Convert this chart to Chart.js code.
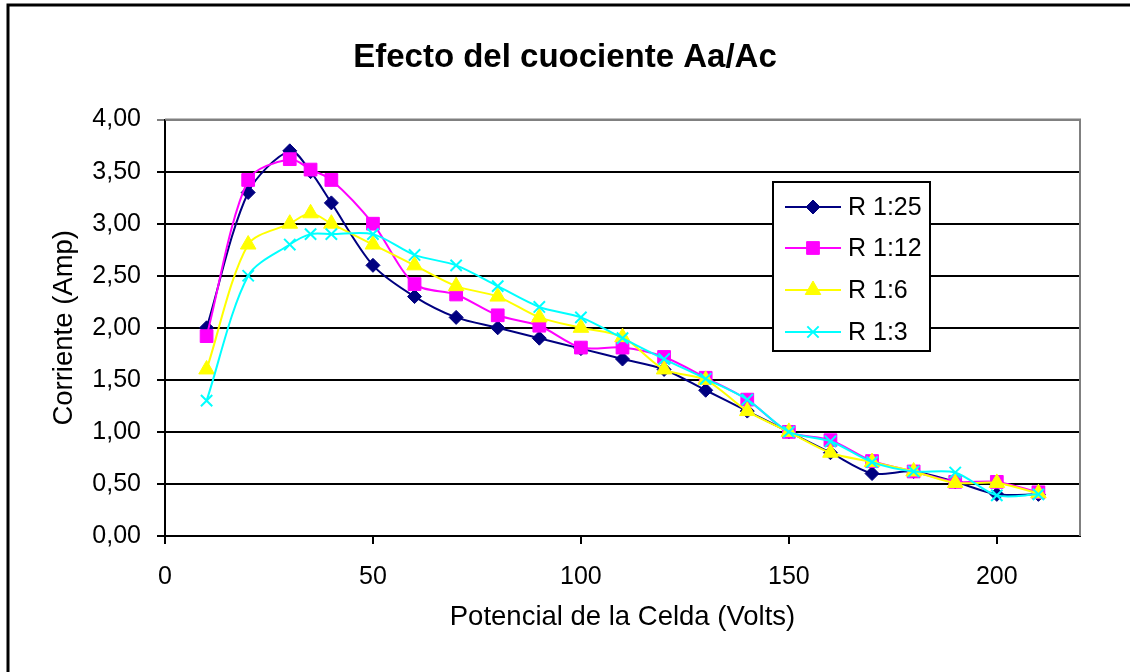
<!DOCTYPE html>
<html>
<head>
<meta charset="utf-8">
<title>Efecto del cuociente Aa/Ac</title>
<script src="https://cdn.jsdelivr.net/npm/chart.js@4.4.0/dist/chart.umd.min.js"></script>
<style>
    html, body { margin: 0; padding: 0; background: #fff; }
    #wrap { width: 1130px; height: 672px; }
</style>
</head>
<body>
<div id="wrap"><canvas id="cuocienteChart" width="1130" height="672"></canvas></div>
<script>
// Potencial de la celda (Volts)
const potencial = [10, 20, 30, 35, 40, 50, 60, 70, 80, 90, 100, 110, 120, 130, 140, 150, 160, 170, 180, 190, 200, 210];

// Corriente (Amp) per ratio
const r125 = [2.00, 3.30, 3.70, 3.50, 3.20, 2.60, 2.30, 2.10, 2.00, 1.90, 1.80, 1.70, 1.60, 1.40, 1.20, 1.00, 0.80, 0.60, 0.62, 0.52, 0.40, 0.40];
const r112 = [1.92, 3.42, 3.62, 3.52, 3.42, 3.00, 2.42, 2.32, 2.12, 2.02, 1.81, 1.81, 1.72, 1.52, 1.31, 1.00, 0.92, 0.72, 0.62, 0.52, 0.52, 0.42];
const r16  = [1.60, 2.80, 3.00, 3.10, 3.00, 2.80, 2.60, 2.40, 2.30, 2.10, 2.00, 1.91, 1.60, 1.50, 1.20, 1.00, 0.80, 0.71, 0.62, 0.51, 0.51, 0.41];
const r13  = [1.30, 2.50, 2.80, 2.90, 2.90, 2.90, 2.70, 2.60, 2.40, 2.20, 2.10, 1.90, 1.70, 1.51, 1.31, 1.00, 0.91, 0.71, 0.62, 0.61, 0.39, 0.40];

const seriesNames = ['R 1:25', 'R 1:12', 'R 1:6', 'R 1:3'];
const xTicks = [0, 50, 100, 150, 200];

const FONT = "'Liberation Sans', Arial, sans-serif";

document.addEventListener('DOMContentLoaded', function() {
    initCuocienteChart();
});

function toPoints(values) {
    return potencial.map((x, i) => ({ x: x, y: values[i] }));
}

function makeDataset(label, values, color, style, radius, order) {
    return {
        label: label,
        data: toPoints(values),
        borderColor: color,
        backgroundColor: color,
        borderWidth: 2,
        pointStyle: style,
        pointRadius: radius,
        pointHoverRadius: radius,
        pointBackgroundColor: color,
        pointBorderColor: color,
        pointBorderWidth: style === 'crossRot' ? 2 : 1,
        tension: 0.3,
        order: order
    };
}

// Frame, gray plot border and the boxed legend inside the plot
const framePlugin = {
    id: 'frame',
    beforeDraw(chart) {
        const ctx = chart.ctx;
        ctx.save();
        ctx.fillStyle = '#fff';
        ctx.fillRect(0, 0, chart.width, chart.height);
        ctx.strokeStyle = '#000';
        ctx.lineWidth = 3;
        ctx.beginPath();
        ctx.moveTo(8, chart.height);
        ctx.lineTo(8, 5);
        ctx.lineTo(chart.width, 5);
        ctx.stroke();
        ctx.restore();
    },
    beforeDatasetsDraw(chart) {
        const a = chart.chartArea;
        const ctx = chart.ctx;
        ctx.save();
        ctx.strokeStyle = '#808080';
        ctx.lineWidth = 2;
        ctx.beginPath();
        ctx.moveTo(a.left, a.top);
        ctx.lineTo(a.right, a.top);
        ctx.lineTo(a.right, a.bottom);
        ctx.stroke();
        ctx.restore();
    },
    afterDraw(chart) {
        const ctx = chart.ctx;
        const box = { x: 773, y: 182, w: 157, h: 169 };
        ctx.save();
        ctx.fillStyle = '#fff';
        ctx.fillRect(box.x, box.y, box.w, box.h);
        ctx.strokeStyle = '#000';
        ctx.lineWidth = 2;
        ctx.strokeRect(box.x, box.y, box.w, box.h);

        ctx.font = '25px ' + FONT;
        ctx.textBaseline = 'middle';
        ctx.textAlign = 'left';
        const rows = [207, 248, 290, 332];
        chart.data.datasets.forEach((ds, i) => {
            const y = rows[i];
            ctx.strokeStyle = ds.borderColor;
            ctx.lineWidth = 2;
            ctx.beginPath();
            ctx.moveTo(785, y);
            ctx.lineTo(841, y);
            ctx.stroke();
            ctx.fillStyle = ds.pointBackgroundColor;
            ctx.strokeStyle = ds.pointBorderColor;
            ctx.lineWidth = ds.pointBorderWidth;
            Chart.helpers.drawPoint(ctx, { pointStyle: ds.pointStyle, radius: ds.pointRadius, rotation: 0, borderWidth: ds.pointBorderWidth }, 813, y);
            ctx.fillStyle = '#000';
            ctx.fillText(ds.label, 848, y + 1);
        });
        ctx.restore();
    }
};

function initCuocienteChart() {
    const ctx = document.getElementById('cuocienteChart').getContext('2d');
    const chart = new Chart(ctx, {
        type: 'line',
        data: {
            datasets: [
                makeDataset(seriesNames[0], r125, '#000080', 'rectRot', 7, 4),
                makeDataset(seriesNames[1], r112, '#FF00FF', 'rect', 9, 3),
                makeDataset(seriesNames[2], r16, '#FFFF00', 'triangle', 9, 2),
                makeDataset(seriesNames[3], r13, '#00FFFF', 'crossRot', 8, 1)
            ]
        },
        options: {
            responsive: false,
            devicePixelRatio: 1,
            animation: false,
            layout: {
                padding: 0
            },
            plugins: {
                legend: { display: false },
                tooltip: { enabled: false },
                title: {
                    display: true,
                    text: 'Efecto del cuociente Aa/Ac',
                    color: '#000',
                    font: { family: FONT, size: 33, weight: 'bold', lineHeight: 1.2 },
                    padding: { top: 38, bottom: 42 }
                }
            },
            scales: {
                x: {
                    type: 'linear',
                    min: 0,
                    max: 220,
                    afterFit(scale) { scale.height = 136; },
                    afterBuildTicks(scale) {
                        scale.ticks = xTicks.map(v => ({ value: v }));
                    },
                    grid: {
                        drawOnChartArea: false,
                        drawTicks: true,
                        tickLength: 8,
                        color: '#000',
                        lineWidth: 2
                    },
                    border: { display: true, color: '#000', width: 2 },
                    ticks: {
                        color: '#000',
                        padding: 18,
                        maxRotation: 0,
                        font: { family: FONT, size: 25 }
                    },
                    title: {
                        display: true,
                        text: 'Potencial de la Celda (Volts)',
                        color: '#000',
                        font: { family: FONT, size: 27.5, lineHeight: 1.2 },
                        padding: { top: 0, bottom: 38 }
                    }
                },
                y: {
                    min: 0,
                    max: 4,
                    afterFit(scale) { scale.width = 165; },
                    grid: {
                        drawTicks: true,
                        tickLength: 8,
                        color: ctx => ctx.tick && ctx.tick.value === 4 ? '#808080' : '#000',
                        lineWidth: 2
                    },
                    border: { display: true, color: '#000', width: 2 },
                    ticks: {
                        stepSize: 0.5,
                        color: '#000',
                        padding: 16,
                        font: { family: FONT, size: 25 },
                        callback: v => v.toFixed(2).replace('.', ',')
                    },
                    title: {
                        display: true,
                        text: 'Corriente (Amp)',
                        color: '#000',
                        font: { family: FONT, size: 27.5, lineHeight: 1.2 },
                        padding: { top: 48, bottom: 0 }
                    }
                },
                // empty strip right of the plot, keeps the title centred on the full width
                spacer: {
                    position: 'right',
                    display: true,
                    afterFit(scale) { scale.width = 50; },
                    grid: { display: false },
                    border: { display: false },
                    ticks: { display: false }
                }
            }
        },
        plugins: [framePlugin]
    });
}
</script>
</body>
</html>
